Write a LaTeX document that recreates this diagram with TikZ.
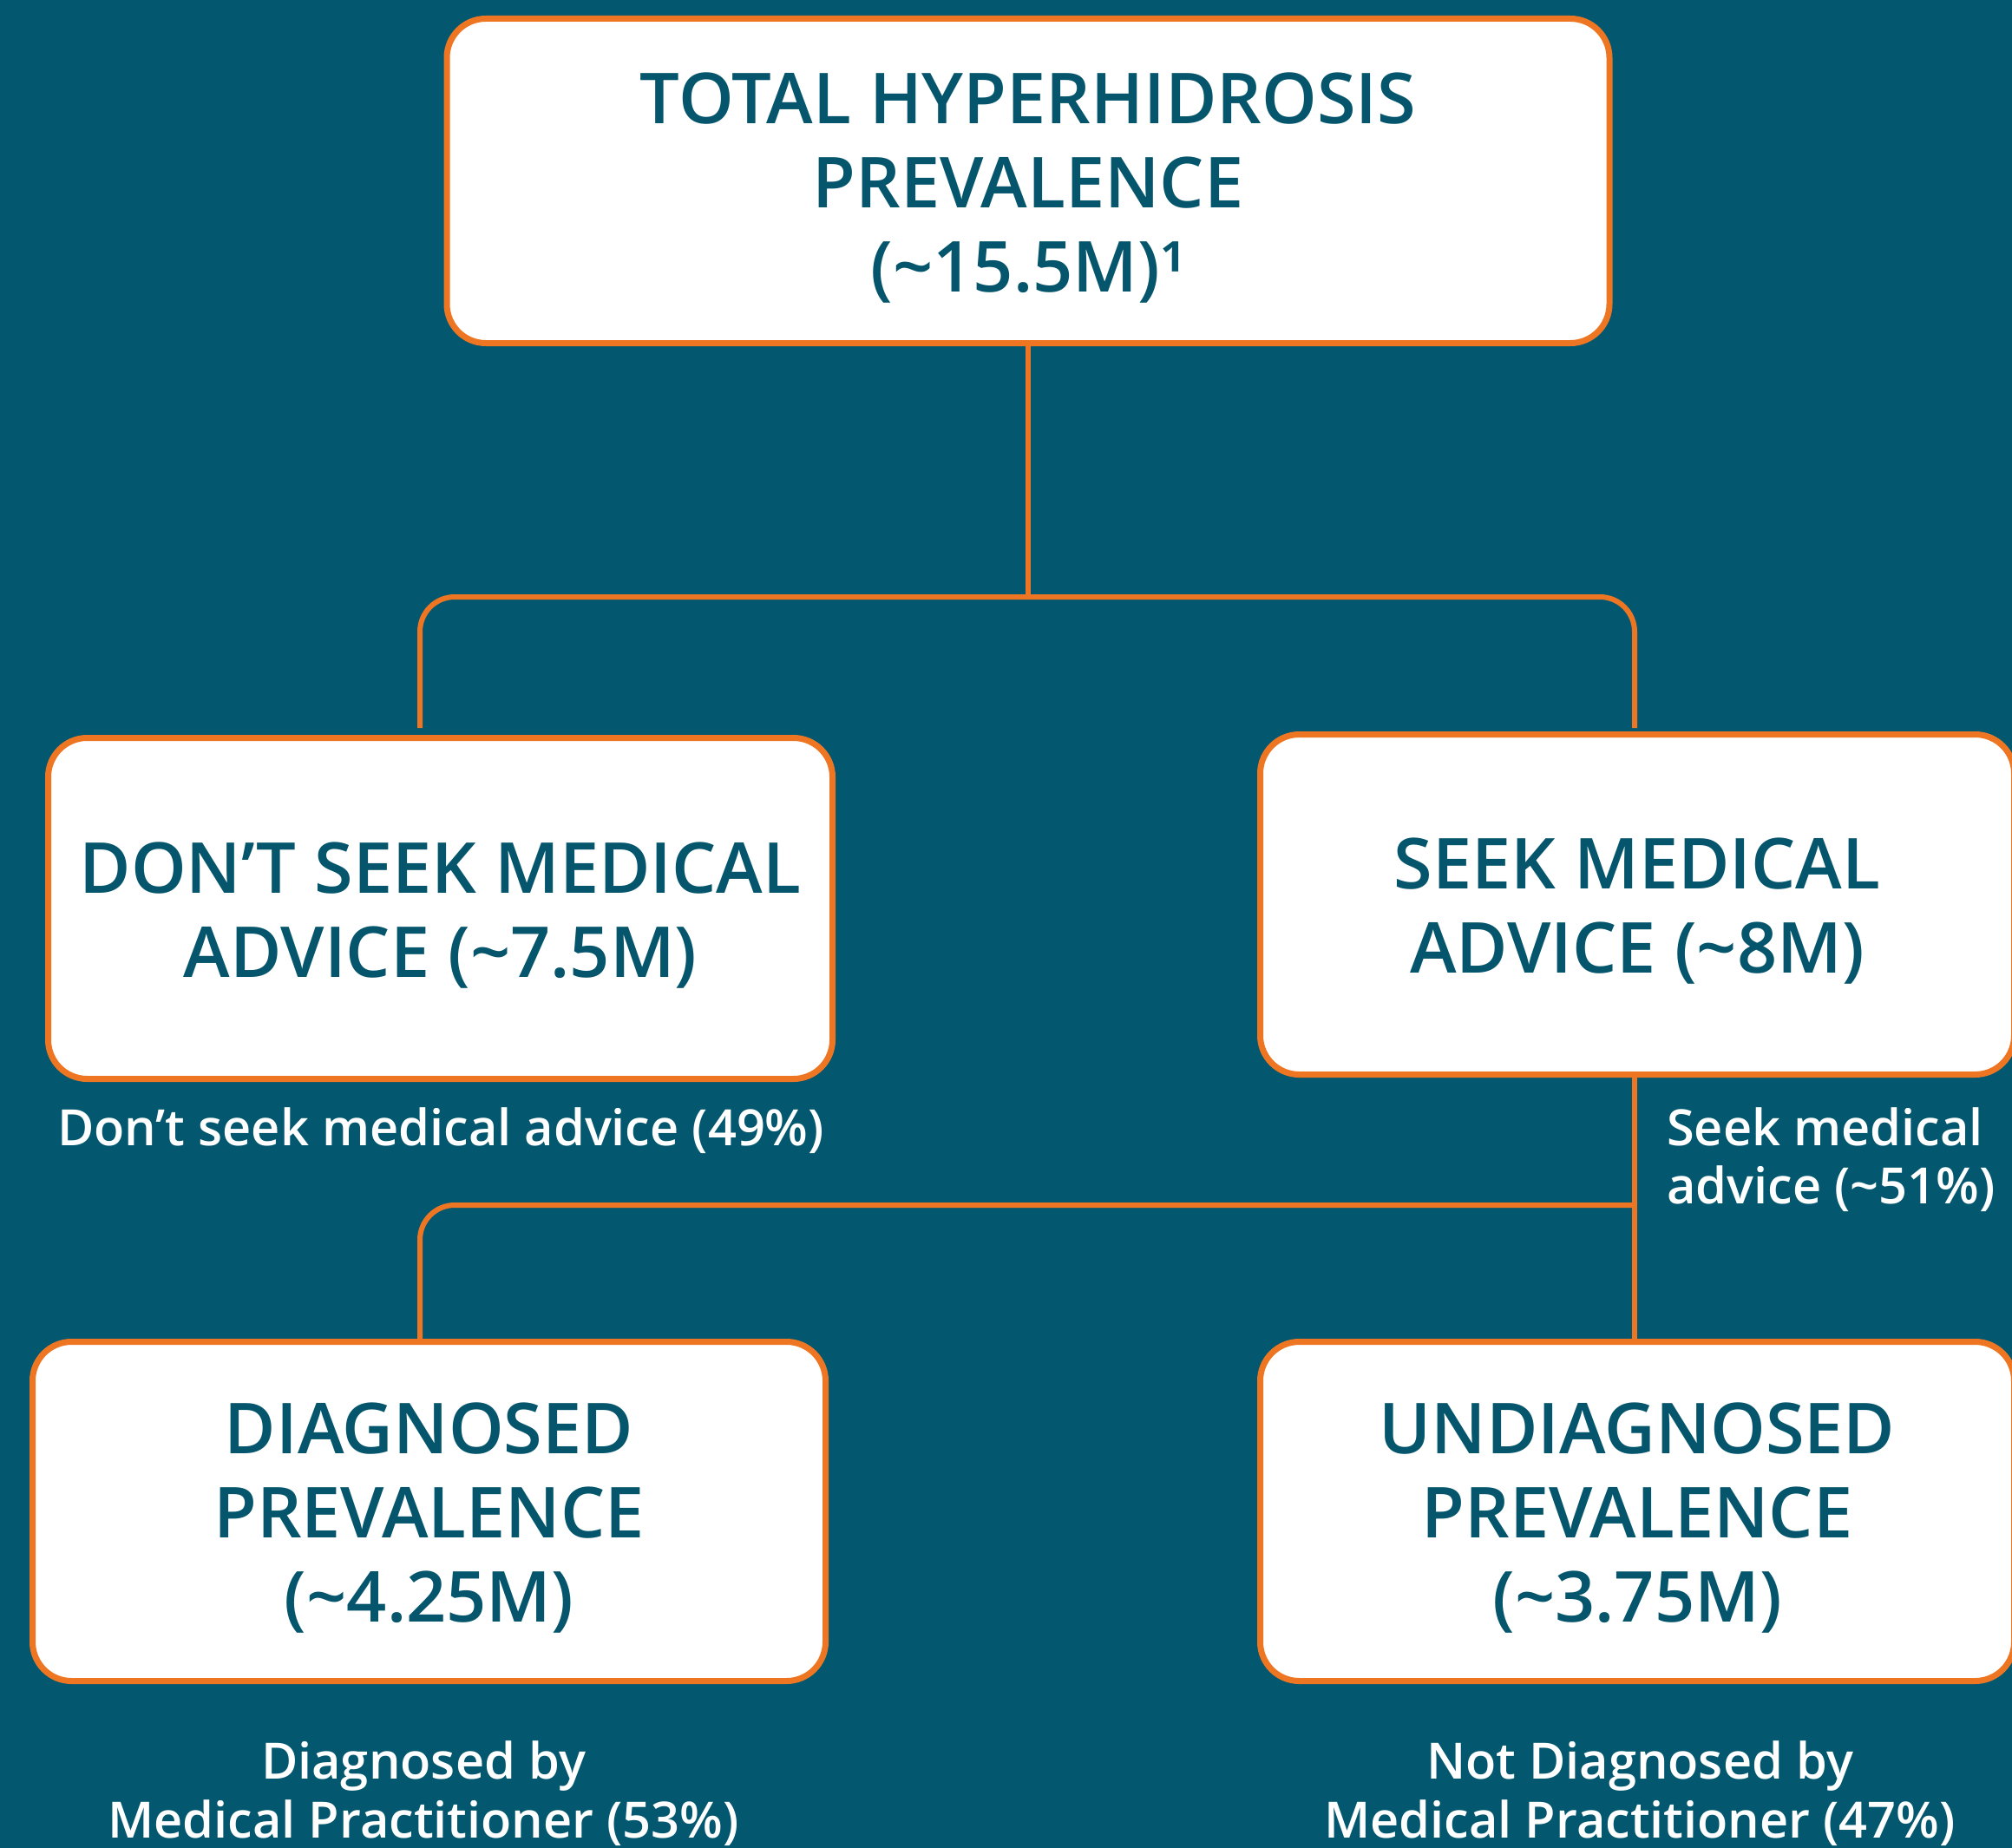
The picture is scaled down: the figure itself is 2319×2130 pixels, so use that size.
\documentclass[tikz,border=0pt]{standalone}
\usepackage{fontspec}
\setmainfont{Open Sans}
\def\titlesize{\fontsize{81}{97}\selectfont}
\def\lblsize{\fontsize{57.7}{68}\selectfont}
\IfFontExistsTF{OpenSans-SemiBold}{%
  \newfontfamily\sbfont{OpenSans-SemiBold}\def\ttlfont{\sbfont}}{%
  \IfFontExistsTF{Open Sans Semibold}{%
    \newfontfamily\sbfont{Open Sans Semibold}\def\ttlfont{\sbfont}}{%
    \newfontfamily\sbfont{Open Sans}[FakeBold=1.6]%
    \def\ttlfont{\bfseries}%
    \def\titlesize{\fontsize{79.5}{97}\selectfont}%
    \def\lblsize{\fontsize{59.5}{68}\selectfont}}}
\definecolor{bg}{HTML}{03586F}
\definecolor{tealtxt}{HTML}{05566C}
\definecolor{orng}{HTML}{EE7623}
\begin{document}
\begin{tikzpicture}[x=1pt,y=-1pt,
  box/.style={draw=orng, line width=7pt, fill=white, rounded corners=45pt, inner sep=0pt},
  title/.style={inner sep=0pt, align=center, text=tealtxt, yshift=-8pt, font=\ttlfont\titlesize},
  conn/.style={draw=orng, line width=6pt, rounded corners=40pt},
  lbl/.style={inner sep=0pt, anchor=base, text=white, font=\sbfont\lblsize}]
\fill[bg] (0,0) rectangle (2319,2130);
\useasboundingbox (0,0) rectangle (2319,2130);

% boxes
\node[box, minimum width=1340pt, minimum height=374pt] (top) at (1185,208.5) {};
\node[box, minimum width=904pt, minimum height=393pt] (dl) at (507.5,1047) {};
\node[box, minimum width=869pt, minimum height=392pt] (dr) at (1887,1042.5) {};
\node[box, minimum width=914pt, minimum height=391pt] (bl) at (494.5,1742) {};
\node[box, minimum width=869pt, minimum height=391pt] (br) at (1887,1742) {};

% titles
\node[title] (ttop) at (top) {TOTAL HYPERHIDROSIS\\PREVALENCE\\(\textasciitilde15.5M)¹};
\node[title] (tdl) at (dl) {DON’T SEEK MEDICAL\\ADVICE (\textasciitilde7.5M)};
\node[title] (tdr) at (dr) {SEEK MEDICAL\\ADVICE (\textasciitilde8M)};
\node[title] (tbl) at (bl) {DIAGNOSED\\PREVALENCE\\(\textasciitilde4.25M)};
\node[title] (tbr) at (br) {UNDIAGNOSED\\PREVALENCE\\(\textasciitilde3.75M)};

% connectors
\coordinate (j1) at (1185,688);
\coordinate (j2) at (1884,1389);
\draw[conn] (top.south) -- (j1);
\draw[conn] ([xshift=-23.5pt,yshift=8pt]dl.north) |- (j1) -| ([xshift=-3pt,yshift=4pt]dr.north);
\draw[conn] ([xshift=-3pt]dr.south) -- ([xshift=-3pt]br.north);
\draw[conn] (j2) -| ([xshift=-10.5pt]bl.north);

% labels
\node[lbl] (l1) at (508,1320) {Don’t seek medical advice (49\%)};
\node[lbl, anchor=base west] (l2a) at (1921,1320) {Seek medical};
\node[lbl, anchor=base west] (l2b) at (1921,1387) {advice (\textasciitilde51\%)};
\node[lbl] (l3a) at (488,2050) {Diagnosed by};
\node[lbl] (l3b) at (488,2118) {Medical Practitioner (53\%)};
\node[lbl] (l4a) at (1890,2050) {Not Diagnosed by};
\node[lbl] (l4b) at (1890,2118) {Medical Practitioner (47\%)};
\end{tikzpicture}
\end{document}
